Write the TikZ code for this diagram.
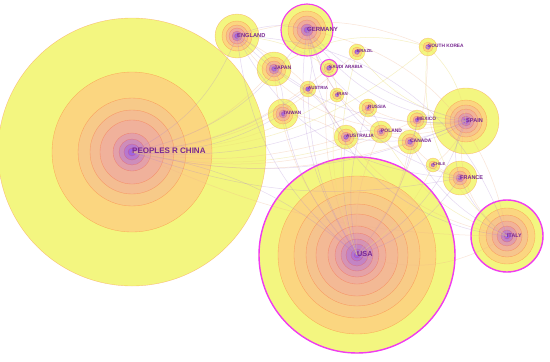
\documentclass[tikz,border=0pt]{standalone}
\usepackage{fontspec}
\setmainfont{Liberation Sans}
\definecolor{ylw}{RGB}{243,246,128}
\definecolor{org}{RGB}{251,214,128}
\definecolor{sal}{RGB}{238,170,160}
\definecolor{pur}{RGB}{160,100,225}
\definecolor{labc}{RGB}{120,40,145}
\definecolor{mag}{RGB}{240,60,240}
\definecolor{edgp}{RGB}{170,130,210}
\definecolor{edgo}{RGB}{240,180,140}
\definecolor{edgy}{RGB}{236,222,120}
\newcommand\ringcol[1]{%
  \pgfmathsetmacro\rtv{#1*2}%
  \ifdim\rtv pt<1pt
    \pgfmathtruncatemacro\pp{\rtv*100}\colorlet{rc}{sal!\pp!org}%
  \else
    \pgfmathtruncatemacro\pp{min((\rtv-1)*100,100)}\colorlet{rc}{pur!\pp!sal}%
  \fi}
\newcommand\treering[2]{%
  \foreach \r [count=\k] in {#2} {\xdef\nr{\k}}%
  \foreach \r [count=\k] in {#2} {%
    \ifnum\k=1 \colorlet{rc}{ylw}\else
    \pgfmathsetmacro\tv{(\k-2)/max(\nr-2,1)}%
    \ringcol{\tv}\fi
    \fill[rc, draw=red!60!orange, draw opacity=0.3, line width=0.35pt] (#1) circle (\r pt);
  }}
\newcommand\lbl[3]{\node[lab, font=\fontsize{#2}{#2}\selectfont\bfseries] (l-#1) at ([yshift=0.8pt]#1) {#3};}
\tikzset{
  lab/.style={anchor=west, inner sep=0pt, text=labc},
  hub/.style={draw=mag, line width=1.4pt},
  ea/.style={draw=edgp, draw opacity=0.3, line width=0.5pt},
  eb/.style={draw=edgo, draw opacity=0.35, line width=0.5pt},
  ec/.style={draw=edgy, draw opacity=0.45, line width=0.5pt}
}
\begin{document}
\begin{tikzpicture}[x=1pt,y=-1pt]
\useasboundingbox (0,0) rectangle (550,362);
\fill[white] (0,0) rectangle (550,362);
\clip (0,0) rectangle (550,362);
% centres
\coordinate (cn) at (132,152);
\coordinate (us) at (357,255);
\coordinate (it) at (507,236);
\coordinate (es) at (466,121);
\coordinate (de) at (307,30);
\coordinate (en) at (237,36);
\coordinate (jp) at (274,69);
\coordinate (tw) at (283,114);
\coordinate (fr) at (460,178);
\coordinate (au) at (346,137);
\coordinate (ca) at (410,142);
\coordinate (pl) at (381,132);
\coordinate (mx) at (417,120);
\coordinate (ru) at (368,108);
\coordinate (kr) at (428,47);
\coordinate (br) at (357,52);
\coordinate (sa) at (329,68);
\coordinate (at) at (308,89);
\coordinate (ir) at (337,95);
\coordinate (cl) at (433,165);
% tree rings
\treering{cn}{134,80,54,42,32,19,13,8,4}
\treering{us}{98,79,63,51,41,29,22,16,11,6,3}
\treering{it}{36,28,21,15,10,6,3}
\treering{es}{33,21,16,12,8,5,2.5}
\treering{de}{26,19,14,10,6,3}
\treering{en}{22,15,11,8,5,2.5}
\treering{jp}{17,12,8,5,2.5}
\treering{tw}{15,10,7,4,2}
\treering{fr}{17,11,7,4,2}
\treering{au}{12,8,5,2.5}
\treering{ca}{12,8,5,2.5}
\treering{pl}{11,7,4,2}
\treering{mx}{10,7,4,2}
\treering{ru}{9,6,3,1.5}
\treering{kr}{9,5,2.5}
\treering{br}{8,5,2.5}
\treering{sa}{8.5,5,2.5}
\treering{at}{8,5,2.5}
\treering{ir}{7,4.5,2}
\treering{cl}{7,4,2}
% burst rings
\draw[hub] (us) circle (98pt);
\draw[hub] (it) circle (36pt);
\draw[hub, line width=1.1pt] (de) circle (26pt);
\draw[hub, line width=1pt] (sa) circle (8.5pt);
% links
\foreach \a/\b/\s/\bd in {
  cn/us/ea/15, cn/en/ea/-20, cn/de/ea/-22, cn/jp/eb/-18, cn/tw/ea/-15, cn/au/eb/-12,
  cn/es/ea/-18, cn/it/eb/-12, cn/fr/ea/-15, cn/ca/eb/-15, cn/kr/ec/-20, cn/sa/eb/-18,
  cn/ru/ea/-15, cn/pl/ec/-15, cn/mx/eb/-18, cn/ir/ec/-15, cn/at/ea/-15, cn/br/eb/-20,
  us/en/ea/22, us/de/ea/20, us/jp/eb/18, us/tw/ea/15, us/es/ea/-20, us/it/eb/-25,
  us/fr/ea/-18, us/ca/eb/-15, us/au/ea/12, us/mx/ea/-15, us/br/ec/15, us/kr/eb/-18,
  us/cl/ec/-15, us/pl/eb/15, us/ru/ea/15, us/ir/ec/15, us/at/ea/15, us/sa/eb/15,
  es/mx/ea/12, es/it/eb/-35, es/fr/ea/-25, es/en/ea/25, es/de/ea/25, es/cl/eb/15,
  es/br/ec/20, es/pl/eb/15, es/ca/ea/15, es/ru/eb/18, es/au/ea/18,
  it/fr/ea/15, it/de/eb/-35, it/en/ea/-35, it/pl/ec/20, it/au/eb/20, it/ca/ea/18,
  en/de/ea/20, en/au/eb/15, en/jp/ea/15, de/fr/ea/-28, de/at/ea/15, de/pl/eb/-20,
  de/ru/ea/-18, jp/tw/ea/15, jp/kr/ec/25, en/kr/eb/20, en/sa/ec/15, au/ca/eb/15,
  au/pl/ea/20, mx/ca/ea/15, fr/ca/eb/15, fr/cl/ec/15, en/fr/ea/-30, de/es/ea/-15,
  kr/es/ec/18, sa/ir/ec/15, ru/pl/ea/15, tw/au/eb/15, jp/au/ea/15, en/es/eb/-35,
  kr/it/ec/-30, de/it/ea/-40}
  {\draw[\s] (\a) to[bend left=\bd] (\b);}
% labels
\lbl{cn}{8}{PEOPLES R CHINA}
\lbl{us}{7.3}{USA}
\lbl{it}{5.3}{ITALY}
\lbl{es}{5.6}{SPAIN}
\lbl{de}{6}{GERMANY}
\lbl{en}{5.7}{ENGLAND}
\lbl{jp}{5.2}{JAPAN}
\lbl{tw}{4.7}{TAIWAN}
\lbl{fr}{5.5}{FRANCE}
\lbl{au}{4.8}{AUSTRALIA}
\lbl{ca}{4.9}{CANADA}
\lbl{pl}{4.9}{POLAND}
\lbl{mx}{4.8}{MEXICO}
\lbl{ru}{4.7}{RUSSIA}
\lbl{kr}{4.8}{SOUTH KOREA}
\lbl{br}{4.3}{BRAZIL}
\lbl{sa}{4.6}{SAUDI ARABIA}
\lbl{at}{4.5}{AUSTRIA}
\lbl{ir}{4.3}{IRAN}
\lbl{cl}{4}{CHILE}
\end{tikzpicture}
\end{document}
